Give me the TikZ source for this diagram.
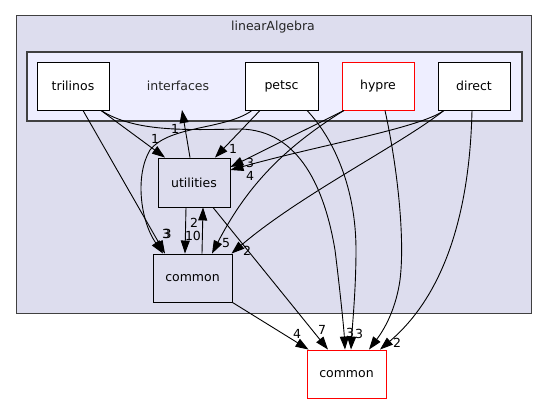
\documentclass[tikz,border=0pt]{standalone}
\usepackage{fontspec}
\setmainfont{DejaVu Sans}
\usetikzlibrary{arrows.meta}
\definecolor{clouter}{HTML}{DDDDEE}
\definecolor{clinner}{HTML}{EEEEFF}
\definecolor{clborder}{HTML}{404040}
\tikzset{
  dirbox/.style={draw=black, fill=white, line width=0.9pt, inner sep=0pt,
    minimum width=72pt, minimum height=48pt, font=\fontsize{12.5}{15}\selectfont},
  redbox/.style={dirbox, draw=red},
  clbox/.style={dirbox, fill=clouter},
  dep/.style={line width=0.9pt, -{Triangle[length=13pt,width=9pt]}},
  lbl/.style={inner sep=0pt, font=\fontsize{12.5}{15}\selectfont},
  cltext/.style={inner sep=0pt, font=\fontsize{12.5}{15}\selectfont, text=black!85}
}
\begin{document}
\begin{tikzpicture}[x=1pt,y=-1pt]
\path[use as bounding box, fill=white] (0,0) rectangle (547,404);
% clusters
\draw[fill=clouter, draw=clborder, line width=1pt] (16,16) rectangle (531,313);
\node[cltext] (labLA) at (273,27) {linearAlgebra};
\draw[fill=clinner, draw=clborder, line width=1.3pt] (27,52) rectangle (522,121);
\node[cltext] (labIF) at (178,86) {interfaces};
\coordinate (ifctip) at (182,110);
% nodes
\node[dirbox] (tri) at (73,86) {trilinos};
\node[dirbox, minimum width=73pt] (pet) at (281.5,86) {petsc};
\node[redbox] (hyp) at (378,86) {hypre};
\node[dirbox] (dir) at (474,86) {direct};
\node[clbox, minimum height=49pt] (uti) at (194,182.5) {utilities};
\node[clbox, minimum width=79pt] (com) at (192.5,278) {common};
\node[redbox, minimum width=79pt] (gcom) at (346.5,374) {common};
% edges from trilinos
\draw[dep] ([xshift=28pt]tri.south) -- ([xshift=-29pt]uti.north);
\draw[dep] ([xshift=10pt]tri.south) -- ([xshift=-27.5pt]com.north);
\draw[dep] ([xshift=28pt]tri.south) .. controls (135,132) and (185,130) .. (240,129)
  .. controls (300,130) and (325,190) .. (335,250)
  .. controls (340,290) and (344,330) .. ([xshift=-1.5pt]gcom.north);
% edges from petsc
\draw[dep] ([xshift=-21.5pt]pet.south) -- ([xshift=21pt]uti.north);
\draw[dep] ([xshift=-29.5pt]pet.south) .. controls (225,130) and (170,125) .. (150,150)
  .. controls (135,175) and (140,220) .. ([xshift=-29.5pt]com.north);
\draw[dep] ([xshift=25.5pt]pet.south) .. controls (335,140) and (356,190) .. (356,250)
  .. controls (356,290) and (352,330) .. ([xshift=4.5pt]gcom.north);
% edges from hypre
\draw[dep] ([xshift=-34pt]hyp.south) -- ([yshift=15.5pt]uti.east);
\draw[dep] ([xshift=-34pt]hyp.south) .. controls (280,150) and (245,190) .. ([xshift=19.5pt]com.north);
\draw[dep] ([xshift=7pt]hyp.south) .. controls (398,170) and (405,240) .. (400,280)
  .. controls (395,315) and (380,335) .. ([xshift=22.5pt]gcom.north);
% edges from direct
\draw[dep] ([xshift=-30pt]dir.south) .. controls (420,128) and (320,145) .. ([yshift=12.5pt]uti.east);
\draw[dep] ([xshift=-30pt]dir.south) .. controls (400,145) and (300,195) .. ([xshift=39pt]com.north);
\draw[dep] ([xshift=-2pt]dir.south) .. controls (470,200) and (450,290) .. ([xshift=33.5pt]gcom.north);
% utilities / common
\draw[dep] ([xshift=-4pt]uti.north) -- (ifctip);
\draw[dep] ([xshift=-8pt]uti.south) -- ([xshift=-7.5pt]com.north);
\draw[dep] ([xshift=9.5pt]com.north) -- ([xshift=9pt]uti.south);
\draw[dep] ([xshift=19pt]uti.south) -- ([xshift=-18.5pt]gcom.north);
\draw[dep] (com.south east) -- ([xshift=2pt]gcom.north west);
% labels
\node[lbl] (l1) at (155,139) {1};
\node[lbl] (l2) at (166,234) {3};
\node[lbl] (l2b) at (167.5,234) {3};
\node[lbl] (l3) at (350,333) {3};
\node[lbl] (l4) at (233,149) {1};
\node[lbl] (l6) at (359,334) {3};
\node[lbl] (l7) at (250,163) {3};
\node[lbl] (l8) at (226,243) {5};
\node[lbl] (l10) at (250,175.5) {4};
\node[lbl] (l11) at (247,251) {2};
\node[lbl] (l12) at (397,343) {2};
\node[lbl] (l13) at (175,129) {1};
\node[lbl] (l14) at (193,235.5) {10};
\node[lbl] (l15) at (194,223) {2};
\node[lbl] (l16) at (322,330) {7};
\node[lbl] (l17) at (297,334) {4};
\end{tikzpicture}
\end{document}
